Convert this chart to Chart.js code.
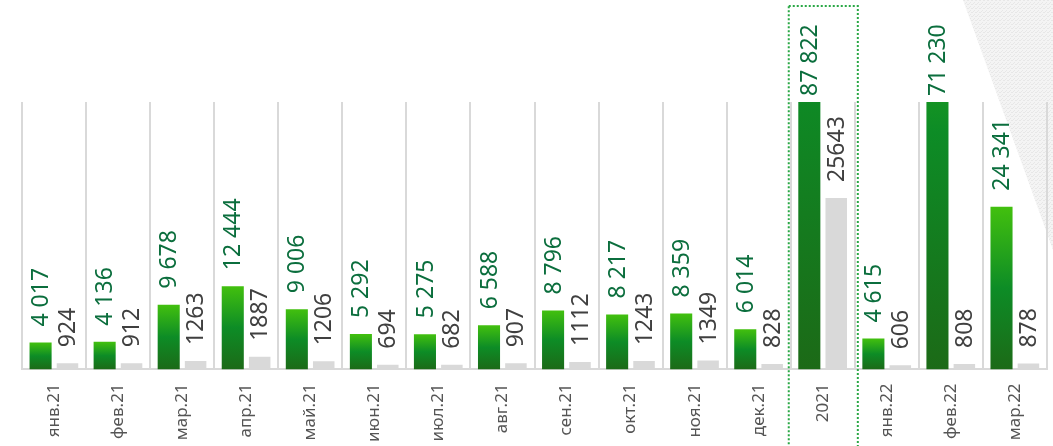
<!DOCTYPE html>
<html>
<head>
<meta charset="utf-8">
<script src="https://cdn.jsdelivr.net/npm/chart.js@4/dist/chart.umd.min.js"></script>
<style>
  html, body { margin: 0; padding: 0; background: #fff; }
  #wrap { width: 1053px; height: 446px; }
</style>
</head>
<body>
<div id="wrap"><canvas id="salesChart" width="1053" height="446"></canvas></div>
<script>
// ── DATA ─────────────────────────────────────────────
const categories = ['янв.21', 'фев.21', 'мар.21', 'апр.21', 'май.21', 'июн.21', 'июл.21', 'авг.21',
                    'сен.21', 'окт.21', 'ноя.21', 'дек.21', '2021', 'янв.22', 'фев.22', 'мар.22'];
const greenValues = [4017, 4136, 9678, 12444, 9006, 5292, 5275, 6588, 8796, 8217, 8359, 6014, 87822, 4615, 71230, 24341];
const grayValues  = [924, 912, 1263, 1887, 1206, 694, 682, 907, 1112, 1243, 1349, 828, 25643, 606, 808, 878];
const yMax = 40000;            // taller bars get cut at the top, as in the original
const highlighted = '2021';    // category inside the dotted frame

const FONT = '"Noto Sans", "Liberation Sans", sans-serif';

// green label uses a space as thousands separator, grey one has none
const fmtGreen = v => String(v).replace(/\B(?=(\d{3})+(?!\d))/g, ' ');
const fmtGray  = v => String(v);

// gradient spans the whole (unclipped) bar so cut bars look darker at the top
function greenFill(context) {
    const chart = context.chart;
    const { chartArea, scales } = chart;
    if (!chartArea) return '#1a9a24';
    const top    = scales.y.getPixelForValue(context.raw);
    const bottom = scales.y.getPixelForValue(0);
    const g = chart.ctx.createLinearGradient(0, top, 0, bottom);
    g.addColorStop(0,    '#42c00e');
    g.addColorStop(0.5,  '#0d8c26');
    g.addColorStop(1,    '#1c6a17');
    return g;
}

// ── PLUGINS ──────────────────────────────────────────
const backdrop = {
    id: 'backdrop',
    beforeDraw(chart) {
        const c = chart.ctx;
        const w = chart.width;
        // faint textured corner in the top right
        const tile = document.createElement('canvas');
        tile.width = 4; tile.height = 4;
        const t = tile.getContext('2d');
        t.fillStyle = '#f4f4f4'; t.fillRect(0, 0, 4, 4);
        t.fillStyle = '#e7e7e7';
        t.fillRect(0, 0, 1, 1); t.fillRect(2, 2, 1, 1); t.fillRect(3, 0, 1, 1); t.fillRect(1, 3, 1, 1);
        c.save();
        c.fillStyle = c.createPattern(tile, 'repeat');
        c.beginPath();
        c.moveTo(w - 90, 0);
        c.lineTo(w, 0);
        c.lineTo(w, 250);
        c.closePath();
        c.fill();
        c.restore();
    }
};

const valueLabels = {
    id: 'valueLabels',
    afterDatasetsDraw(chart) {
        const c = chart.ctx;
        const top = chart.chartArea.top;
        c.save();
        c.font = '23px ' + FONT;
        c.textAlign = 'left';
        c.textBaseline = 'middle';
        chart.data.datasets.forEach((ds, di) => {
            const meta = chart.getDatasetMeta(di);
            meta.data.forEach((bar, i) => {
                const text = di === 0 ? fmtGreen(ds.data[i]) : fmtGray(ds.data[i]);
                const start = bar.y < top ? top - 6 : bar.y - 16;
                c.save();
                c.translate(bar.x + 1, start);
                c.rotate(-Math.PI / 2);
                c.fillStyle = di === 0 ? '#0b6e3d' : '#404040';
                c.fillText(text, 0, 0);
                c.restore();
            });
        });
        c.restore();
    }
};

const frame2021 = {
    id: 'frame2021',
    afterDraw(chart) {
        const x = chart.scales.x;
        const idx = categories.indexOf(highlighted);
        const step = x.width / categories.length;
        const cx = x.getPixelForValue(idx);
        const c = chart.ctx;
        c.save();
        c.strokeStyle = '#2aa845';
        c.lineWidth = 2;
        c.setLineDash([2, 2]);
        c.strokeRect(cx - step / 2 - 2, 6, step + 5, chart.height + 10);
        c.restore();
    }
};

// ── CHART ────────────────────────────────────────────
new Chart(document.getElementById('salesChart'), {
    type: 'bar',
    data: {
        labels: categories,
        datasets: [
            {
                label: 'green',
                data: greenValues,
                backgroundColor: greenFill,
                borderWidth: 0,
                categoryPercentage: 0.84,
                barPercentage: 0.82
            },
            {
                label: 'gray',
                data: grayValues,
                backgroundColor: '#d9d9d9',
                borderWidth: 0,
                categoryPercentage: 0.84,
                barPercentage: 0.8
            }
        ]
    },
    options: {
        responsive: false,
        animation: false,
        layout: { padding: { top: 102, left: 22, right: 6, bottom: -10 } },
        plugins: {
            legend:  { display: false },
            tooltip: { enabled: false }
        },
        scales: {
            x: {
                grid: {
                    offset: true,
                    color: '#d9d9d9',
                    lineWidth: 2,
                    drawTicks: false
                },
                border: { display: true, color: '#d9d9d9', width: 2 },
                ticks: {
                    maxRotation: 90,
                    minRotation: 90,
                    padding: 14,
                    color: '#555555',
                    font: { family: FONT, size: 17 }
                }
            },
            y: {
                display: false,
                min: 0,
                max: yMax
            }
        }
    },
    plugins: [backdrop, valueLabels, frame2021]
});
</script>
</body>
</html>
